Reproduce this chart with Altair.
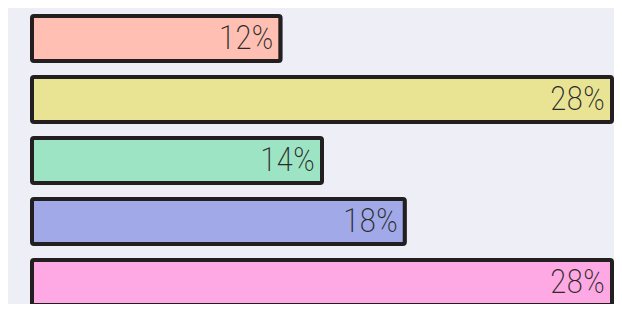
import altair as alt
import pandas as pd

categories = ["A", "B", "C", "D", "E"]
values = [12, 28, 14, 18, 28]
labels = ["12%", "28%", "14%", "18%", "28%"]
colors = ["#FFBFB2", "#E9E494", "#9DE4C4", "#A1A9E8", "#FFA9E4"]

df = pd.DataFrame({"cat": categories, "value": values, "label": labels})

y = alt.Y("cat:N", sort=categories, axis=None,
          scale=alt.Scale(range=[0, 305], paddingInner=0.262, paddingOuter=0.131))
x = alt.X("value:Q", axis=None, scale=alt.Scale(domain=[0, 28], range=[24, 604]))

bars = alt.Chart(df).mark_bar(
    stroke="#231F20", strokeWidth=4, strokeJoin="round", cornerRadius=2, clip=False
).encode(
    x=x, y=y,
    color=alt.Color("cat:N", scale=alt.Scale(domain=categories, range=colors), legend=None),
)

text = alt.Chart(df).mark_text(
    align="right", baseline="middle", dx=-7, dy=0,
    font="Roboto Condensed, Noto Sans Condensed Light, Roboto",
    fontWeight=200, fontSize=34, color="#2B2B2B"
).encode(x=x, y=y, text="label:N")

chart = (bars + text).properties(
    width=606, height=296, background="#EEEEF6", padding=0,
    autosize=alt.AutoSizeParams(type="none")
).configure_view(stroke=None)

chart.save("out.html", embed_options={"renderer": "svg", "actions": False})
